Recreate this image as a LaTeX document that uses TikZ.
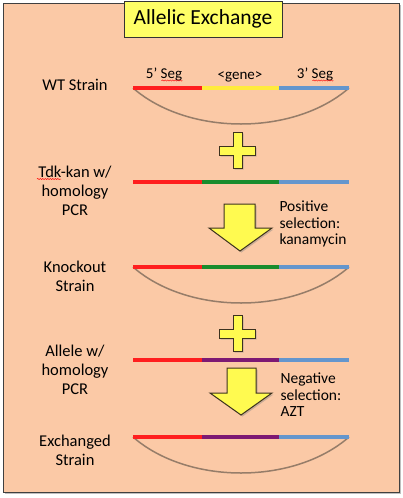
\documentclass[tikz,border=0pt]{standalone}
\usepackage{fontspec}
\setmainfont{Carlito}
\usetikzlibrary{shadows,decorations.pathmorphing}

\definecolor{peach}{RGB}{251,201,166}
\definecolor{titleyellow}{RGB}{255,255,102}
\definecolor{blockyellow}{RGB}{255,250,80}
\definecolor{blockedge}{RGB}{60,50,30}
\definecolor{segred}{RGB}{255,30,30}
\definecolor{geneyellow}{RGB}{255,235,60}
\definecolor{segblue}{RGB}{100,150,205}
\definecolor{kangreen}{RGB}{25,140,45}
\definecolor{allelepurple}{RGB}{125,25,115}
\definecolor{loopbrown}{RGB}{150,125,105}

\begin{document}
\begin{tikzpicture}[
  x=1pt, y=-1pt,
  strain/.style={font=\fontsize{16.5}{19}\selectfont, align=center},
  seglabel/.style={font=\fontsize{15}{17}\selectfont, inner sep=0pt, anchor=base},
  selnote/.style={font=\fontsize{15.5}{16.5}\selectfont, align=left, anchor=west},
  seg/.style={line width=4pt},
  loop/.style={draw=loopbrown, line width=1.5pt},
  block/.style={fill=blockyellow, draw=blockedge, line width=1pt,
    drop shadow={shadow xshift=1.5pt, shadow yshift=-1.5pt, opacity=0.4}},
  spell/.style={draw=red, line width=0.5pt, decorate,
    decoration={snake, amplitude=0.6pt, segment length=2.5pt}}
]
\useasboundingbox (0,0) rectangle (402,498);

% background panel
\path[fill=peach, draw=black!75, line width=1pt,
  drop shadow={shadow xshift=2pt, shadow yshift=-2pt, opacity=0.5}] (3,3) rectangle (399,492);

% title
\node[fill=titleyellow, draw=black!80, line width=1pt, minimum width=158pt, minimum height=36pt,
  font=\fontsize{21.5}{24}\selectfont] (title) at (203,19) {Allelic Exchange};

% chromosome segments
\foreach \row/\y in {wt/88, tdk/182, ko/267, al/360, ex/437} {
  \coordinate (\row L) at (133,\y);
  \coordinate (\row A) at (202,\y);
  \coordinate (\row B) at (279,\y);
  \coordinate (\row R) at (349,\y);
}
\foreach \row in {wt,ko,ex}
  \draw[loop] (\row L) .. controls +(55,48) and +(-55,48) .. (\row R);
\foreach \row/\mid in {wt/geneyellow, tdk/kangreen, ko/kangreen, al/allelepurple, ex/allelepurple} {
  \draw[seg, segred] (\row L) -- (\row A);
  \draw[seg, \mid] (\row A) -- (\row B);
  \draw[seg, segblue] (\row B) -- (\row R);
}

% segment labels
\node[seglabel] (seg5) at (164,78) {5’ Seg};
\node[seglabel] (gene) at (240,79) {<gene>};
\node[seglabel] (seg3) at (315,78) {3’ Seg};
\draw[spell] ([yshift=-2.5pt]seg5.base east) -- ++(-21,0);
\draw[spell] ([yshift=-2.5pt]seg3.base east) -- ++(-21,0);

% strain labels
\node[strain] (wtlab) at (75,85) {WT Strain};
\node[strain] (tdklab) at (75,191) {Tdk-kan w/\\homology\\PCR};
\node[strain] (kolab) at (75,276) {Knockout\\Strain};
\node[strain] (allab) at (75,370) {Allele w/\\homology\\PCR};
\node[strain] (exlab) at (75,450) {Exchanged\\Strain};
\draw[spell] (37,179) -- (61,179);

% plus signs
\foreach \dy in {0,183}
  \draw[block, shift={(0,\dy)}] (233,132) -- (242,132) -- (242,146) -- (255,146) -- (255,155)
    -- (242,155) -- (242,168) -- (233,168) -- (233,155) -- (219,155) -- (219,146) -- (233,146) -- cycle;

% selection arrows
\draw[block] (224,204) -- (255,204) -- (255,228) -- (272,228) -- (240,251) -- (209,228) -- (224,228) -- cycle;
\draw[block] (227,368) -- (256,368) -- (256,393) -- (272,393) -- (241,415) -- (210,393) -- (227,393) -- cycle;

\node[selnote] (posnote) at (276,224) {Positive\\selection:\\kanamycin};
\node[selnote] (negnote) at (277,395) {Negative\\selection:\\AZT};

\end{tikzpicture}
\end{document}
